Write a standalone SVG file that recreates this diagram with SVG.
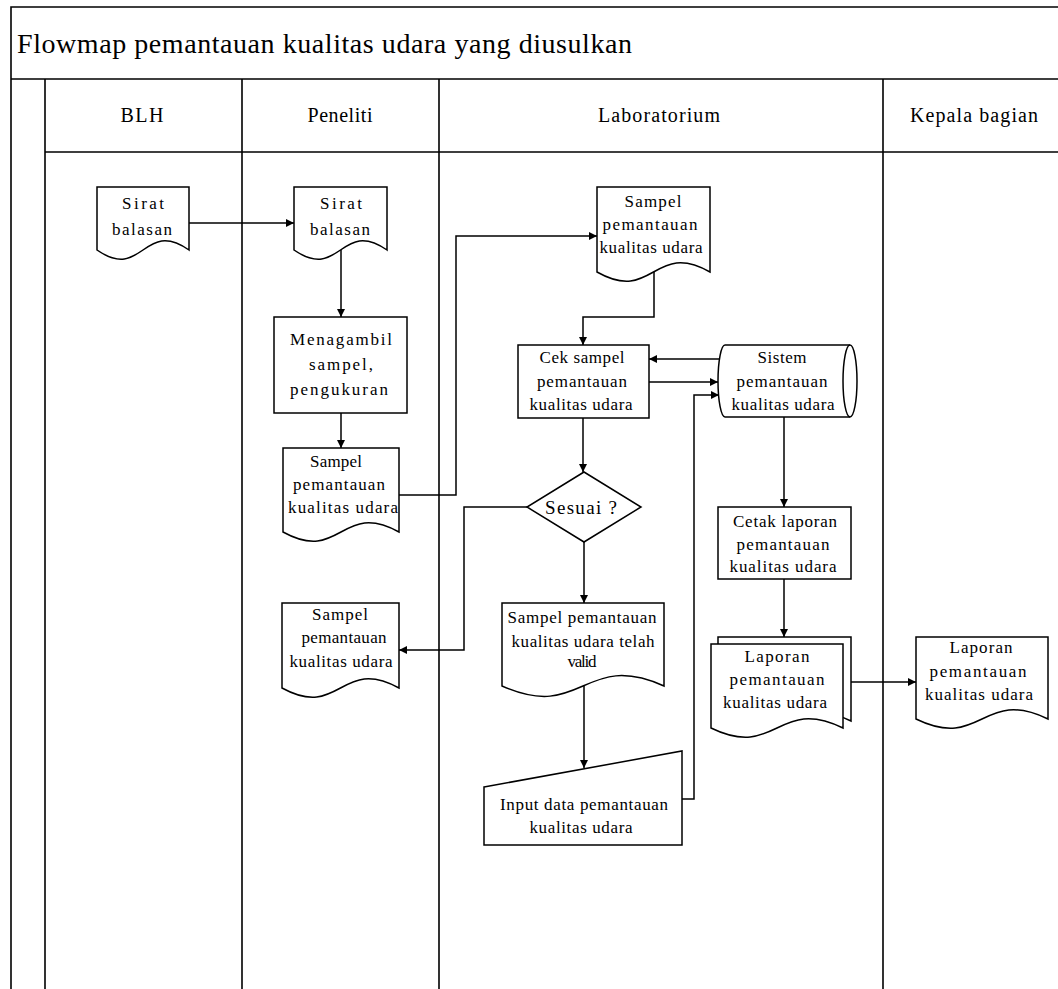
<svg xmlns="http://www.w3.org/2000/svg" width="1058" height="989" viewBox="0 0 1058 989">
<defs>
<style>
.fr{stroke:#000;stroke-width:1.6;fill:none}
.ln{stroke:#000;stroke-width:1.5;fill:none}
.sh{fill:#fff;stroke:#000;stroke-width:1.5}
.t{font-family:"Liberation Serif","Times New Roman",serif;font-size:17px;text-anchor:middle;fill:#000}
.h{font-family:"Liberation Serif","Times New Roman",serif;font-size:20px;text-anchor:middle;fill:#000}
.ti{font-family:"Liberation Serif","Times New Roman",serif;font-size:28px;fill:#000}
</style>
<marker id="ah" markerUnits="userSpaceOnUse" markerWidth="9" markerHeight="8" refX="8" refY="4" orient="auto">
<path d="M0,0 L8,4 L0,8 Z" fill="#000"/>
</marker>
</defs>
<rect x="0" y="0" width="1058" height="989" fill="#fff"/>
<g id="frame">
<path class="fr" d="M11,989 V7 H1058 M11,79 H1058 M45,79 V989 M45,152 H1058 M242,79 V989 M439,79 V989 M883,79 V989"/>
<text class="ti" x="17" y="53" textLength="615">Flowmap pemantauan kualitas udara yang diusulkan</text>
<text class="h" x="142" y="122" textLength="43">BLH</text>
<text class="h" x="340" y="122" textLength="65">Peneliti</text>
<text class="h" x="659" y="122" textLength="122">Laboratorium</text>
<text class="h" x="974" y="122" textLength="128">Kepala bagian</text>
</g>
<g id="connectors" class="ln">
<path d="M189,223 H294" marker-end="url(#ah)"/>
<path d="M341,250 V317" marker-end="url(#ah)"/>
<path d="M341,413 V448" marker-end="url(#ah)"/>
<path d="M399,495 H456 V236 H597" marker-end="url(#ah)"/>
<path d="M654,272 V317 H583 V345" marker-end="url(#ah)"/>
<path d="M722,359 H649" marker-end="url(#ah)"/>
<path d="M649,382 H718" marker-end="url(#ah)"/>
<path d="M682,799 H694 V395 H719" marker-end="url(#ah)"/>
<path d="M583,418 V472" marker-end="url(#ah)"/>
<path d="M527,507 H464 V650 H399" marker-end="url(#ah)"/>
<path d="M584,542 V603" marker-end="url(#ah)"/>
<path d="M584,686 V768" marker-end="url(#ah)"/>
<path d="M784,417 V507" marker-end="url(#ah)"/>
<path d="M784,579 V637" marker-end="url(#ah)"/>
<path d="M843,682 H916" marker-end="url(#ah)"/>
</g>
<g id="blh-surat">
<path class="sh" d="M97,187 H189 V250 C143,218 143,282 97,250 Z"/>
<text class="t" x="143" y="209" textLength="42">Sirat</text>
<text class="t" x="142" y="235" textLength="60">balasan</text>
</g>
<g id="peneliti-surat">
<path class="sh" d="M294,187 H387 V250 C340.5,218 340.5,282 294,250 Z"/>
<text class="t" x="341" y="209" textLength="42">Sirat</text>
<text class="t" x="340" y="235" textLength="60">balasan</text>
</g>
<g id="ambil-sampel">
<rect class="sh" x="274" y="317" width="133" height="96"/>
<text class="t" x="341" y="345" textLength="102">Menagambil</text>
<text class="t" x="341" y="370" textLength="64">sampel,</text>
<text class="t" x="339" y="395" textLength="98">pengukuran</text>
</g>
<g id="peneliti-sampel">
<path class="sh" d="M283,448 H399 V532 C341,500 341,564 283,532 Z"/>
<text class="t" x="336" y="467" textLength="52">Sampel</text>
<text class="t" x="339" y="490" textLength="92">pemantauan</text>
<text class="t" x="343" y="513" textLength="110">kualitas udara</text>
</g>
<g id="lab-sampel">
<path class="sh" d="M597,187 H710 V272 C653.5,240 653.5,304 597,272 Z"/>
<text class="t" x="653" y="207" textLength="57">Sampel</text>
<text class="t" x="650" y="230" textLength="95">pemantauan</text>
<text class="t" x="651" y="253" textLength="103">kualitas udara</text>
</g>
<g id="cek-sampel">
<rect class="sh" x="518" y="345" width="131" height="73"/>
<text class="t" x="582" y="363" textLength="85">Cek sampel</text>
<text class="t" x="582" y="387" textLength="90">pemantauan</text>
<text class="t" x="581" y="410" textLength="103">kualitas udara</text>
</g>
<g id="sistem">
<path class="sh" d="M725,345 H850 A7,36 0 0 1 850,417 H725 A7,36 0 0 1 725,345 Z"/>
<path class="ln" d="M850,345 A7,36 0 0 0 850,417"/>
<text class="t" x="782" y="363" textLength="49">Sistem</text>
<text class="t" x="782" y="387" textLength="91">pemantauan</text>
<text class="t" x="783" y="410" textLength="103">kualitas udara</text>
</g>
<g id="sesuai">
<path class="sh" d="M584,472 L641,507 L584,542 L527,507 Z"/>
<text class="t" x="581" y="514" style="font-size:19px" textLength="72">Sesuai ?</text>
</g>
<g id="sampel-kembali">
<path class="sh" d="M282,603 H399 V688 C340.5,656 340.5,720 282,688 Z"/>
<text class="t" x="340" y="620" textLength="56">Sampel</text>
<text class="t" x="344" y="643" textLength="85">pemantauan</text>
<text class="t" x="341" y="667" textLength="103">kualitas udara</text>
</g>
<g id="sampel-valid">
<path class="sh" d="M502,603 H664 V686 C583,650 583,722 502,686 Z"/>
<text class="t" x="582" y="623" textLength="149">Sampel pemantauan</text>
<text class="t" x="583" y="647" textLength="143">kualitas udara telah</text>
<text class="t" x="582" y="667" textLength="29">valid</text>
</g>
<g id="input-data">
<path class="sh" d="M484,787 L682,751 L682,845 L484,845 Z"/>
<text class="t" x="584" y="810" textLength="168">Input data pemantauan</text>
<text class="t" x="581" y="833" textLength="103">kualitas udara</text>
</g>
<g id="cetak-laporan">
<rect class="sh" x="718" y="507" width="133" height="72"/>
<text class="t" x="785" y="527" textLength="104">Cetak laporan</text>
<text class="t" x="783" y="550" textLength="93">pemantauan</text>
<text class="t" x="783" y="572" textLength="107">kualitas udara</text>
</g>
<g id="laporan-lab">
<path class="sh" d="M718,637 H851 V721 C784.5,689 784.5,753 718,721 Z"/>
<path class="sh" d="M711,644 H843 V728 C777,696 777,760 711,728 Z"/>
<text class="t" x="777" y="662" textLength="65">Laporan</text>
<text class="t" x="777" y="685" textLength="95">pemantauan</text>
<text class="t" x="775" y="708" textLength="104">kualitas udara</text>
</g>
<g id="laporan-kepala">
<path class="sh" d="M916,637 H1048 V719 C982,687 982,751 916,719 Z"/>
<text class="t" x="981" y="653" textLength="63">Laporan</text>
<text class="t" x="978" y="677" textLength="97">pemantauan</text>
<text class="t" x="979" y="700" textLength="108">kualitas udara</text>
</g>
</svg>
